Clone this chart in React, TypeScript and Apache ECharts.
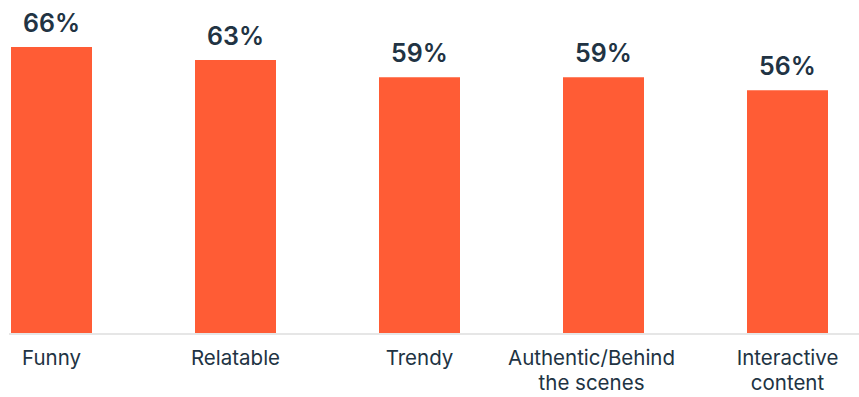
import React, { useEffect, useRef } from "react";
import * as echarts from "echarts";

const categories = ["Funny", "Relatable", "Trendy", "Authentic/Behind\nthe scenes", "Interactive\ncontent"];
const values = [66, 63, 59, 59, 56];

export default function App() {
  const ref = useRef<HTMLDivElement>(null);
  useEffect(() => {
    if (!ref.current) return;
    const chart = echarts.init(ref.current, null, { renderer: "svg" });
    const font = "Inter, 'Noto Sans', sans-serif";
    chart.setOption({
      animation: false,
      grid: { left: 51.5, right: 71.5, top: 29.7, bottom: 64, containLabel: false },
      xAxis: {
        type: "category",
        data: categories,
        boundaryGap: false,
        axisLine: { show: false },
        axisTick: { show: false },
        axisLabel: {
          interval: 0,
          margin: 12,
          color: "#213343",
          fontFamily: font,
          fontSize: 20.5,
          lineHeight: 25,
          formatter: (v: string) =>
            v.indexOf("Authentic") === 0 ? "{a|" + v.split("\n").join("}\n{a|") + "}" : v,
          rich: {
            a: { color: "#213343", fontFamily: font, fontSize: 20.5, lineHeight: 25, padding: [0, 24, 0, 0] },
          },
        },
      },
      yAxis: {
        type: "value",
        min: 0,
        max: 70,
        show: false,
        splitLine: { show: false },
      },
      graphic: [
        {
          type: "line",
          shape: { x1: 9, y1: 334, x2: 859, y2: 334 },
          style: { stroke: "#e6e6e6", lineWidth: 2 },
          z: 0,
        },
      ],
      series: [
        {
          type: "bar",
          data: values,
          barWidth: 81,
          itemStyle: { color: "#ff5c35" },
          z: 2,
          label: {
            show: true,
            position: "top",
            distance: 12,
            formatter: "{c}%",
            color: "#213343",
            fontFamily: font,
            fontWeight: 600,
            fontSize: 25,
          },
        },
      ],
    });
    return () => chart.dispose();
  }, []);
  return <div ref={ref} style={{ width: 859, height: 397, position: "absolute", left: 0, top: 0 }} />;
}
